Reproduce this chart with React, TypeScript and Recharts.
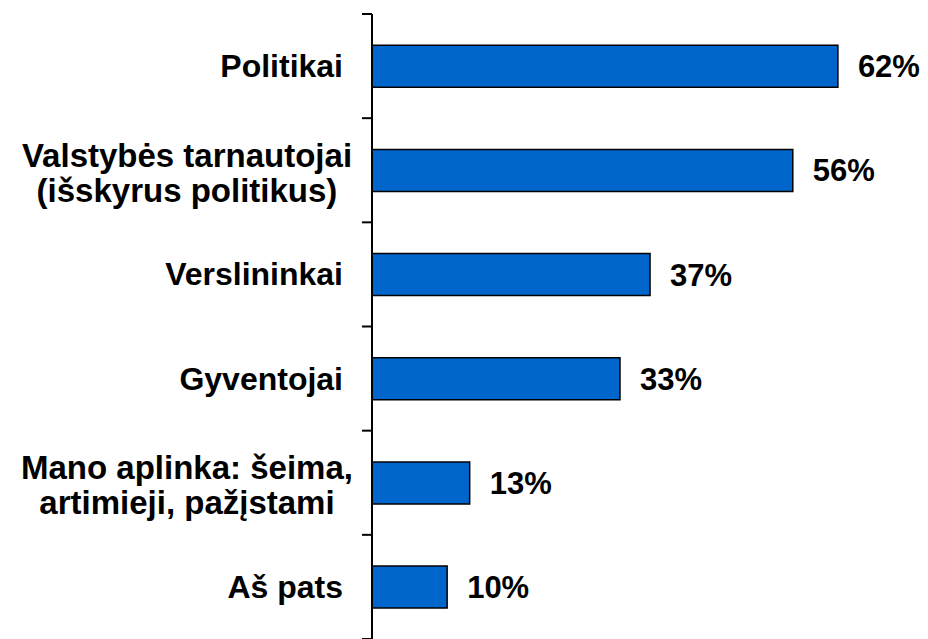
import React from "react";
import { BarChart, Bar, XAxis, YAxis, LabelList } from "recharts";

const categories = [
  "Politikai",
  "Valstybės tarnautojai\n(išskyrus politikus)",
  "Verslininkai",
  "Gyventojai",
  "Mano aplinka: šeima,\nartimieji, pažįstami",
  "Aš pats",
];
const values = [62, 56, 37, 33, 13, 10];

const data = categories.map((name, i) => ({ name, value: values[i] }));

const FONT = "'Liberation Sans', Arial, Helvetica, sans-serif";
const TICK_MARGIN = 29;
const TICK_LEN = 10;

const CategoryTick = (props: any) => {
  const { x, y, payload, index, visibleTicksCount } = props;
  const half = typeof payload.offset === "number" && payload.offset > 0 ? payload.offset : 52;
  const axisX = x + TICK_MARGIN;
  const lines = String(payload.value).split("\n");
  const boundaryLines = [
    <line key="t" x1={axisX - TICK_LEN} x2={axisX} y1={y - half} y2={y - half} stroke="#000" strokeWidth={2} />,
  ];
  if (index === visibleTicksCount - 1) {
    boundaryLines.push(
      <line key="b" x1={axisX - TICK_LEN} x2={axisX} y1={y + half} y2={y + half} stroke="#000" strokeWidth={2} />
    );
  }
  if (lines.length === 1) {
    return (
      <g>
        {boundaryLines}
        <text
          x={x}
          y={y}
          textAnchor="end"
          dominantBaseline="central"
          fontFamily={FONT}
          fontWeight="bold"
          fontSize={32}
          fill="#000"
        >
          {lines[0]}
        </text>
      </g>
    );
  }
  const lh = 35;
  const start = y + 2 - ((lines.length - 1) * lh) / 2;
  return (
    <g>
      {boundaryLines}
      <text
        x={x - 156}
        y={start}
        textAnchor="middle"
        dominantBaseline="central"
        fontFamily={FONT}
        fontWeight="bold"
        fontSize={33}
        fill="#000"
      >
        {lines.map((l, i) => (
          <tspan key={i} x={x - 156} y={start + i * lh} dominantBaseline="central">
            {l}
          </tspan>
        ))}
      </text>
    </g>
  );
};

export default function App() {
  return (
    <div style={{ position: "absolute", left: 0, top: 0, background: "#fff" }}>
      <BarChart
        width={928}
        height={639}
        data={data}
        layout="vertical"
        margin={{ top: 14, right: 30, bottom: 0, left: 0 }}
        barCategoryGap="30%"
      >
        <XAxis type="number" domain={[0, 70]} hide />
        <YAxis
          type="category"
          dataKey="name"
          width={372}
          tickSize={0}
          tickMargin={TICK_MARGIN}
          tickLine={false}
          axisLine={{ stroke: "#000", strokeWidth: 2 }}
          tick={<CategoryTick />}
          interval={0}
        />
        <Bar
          dataKey="value"
          fill="#0066CC"
          stroke="#000"
          strokeWidth={1.5}
          isAnimationActive={false}
        >
          <LabelList
            dataKey="value"
            position="right"
            offset={20}
            formatter={(v: any) => `${v}%`}
            style={{
              fontFamily: FONT,
              fontWeight: "bold",
              fontSize: 31,
              fill: "#000",
            }}
          />
        </Bar>
      </BarChart>
    </div>
  );
}
